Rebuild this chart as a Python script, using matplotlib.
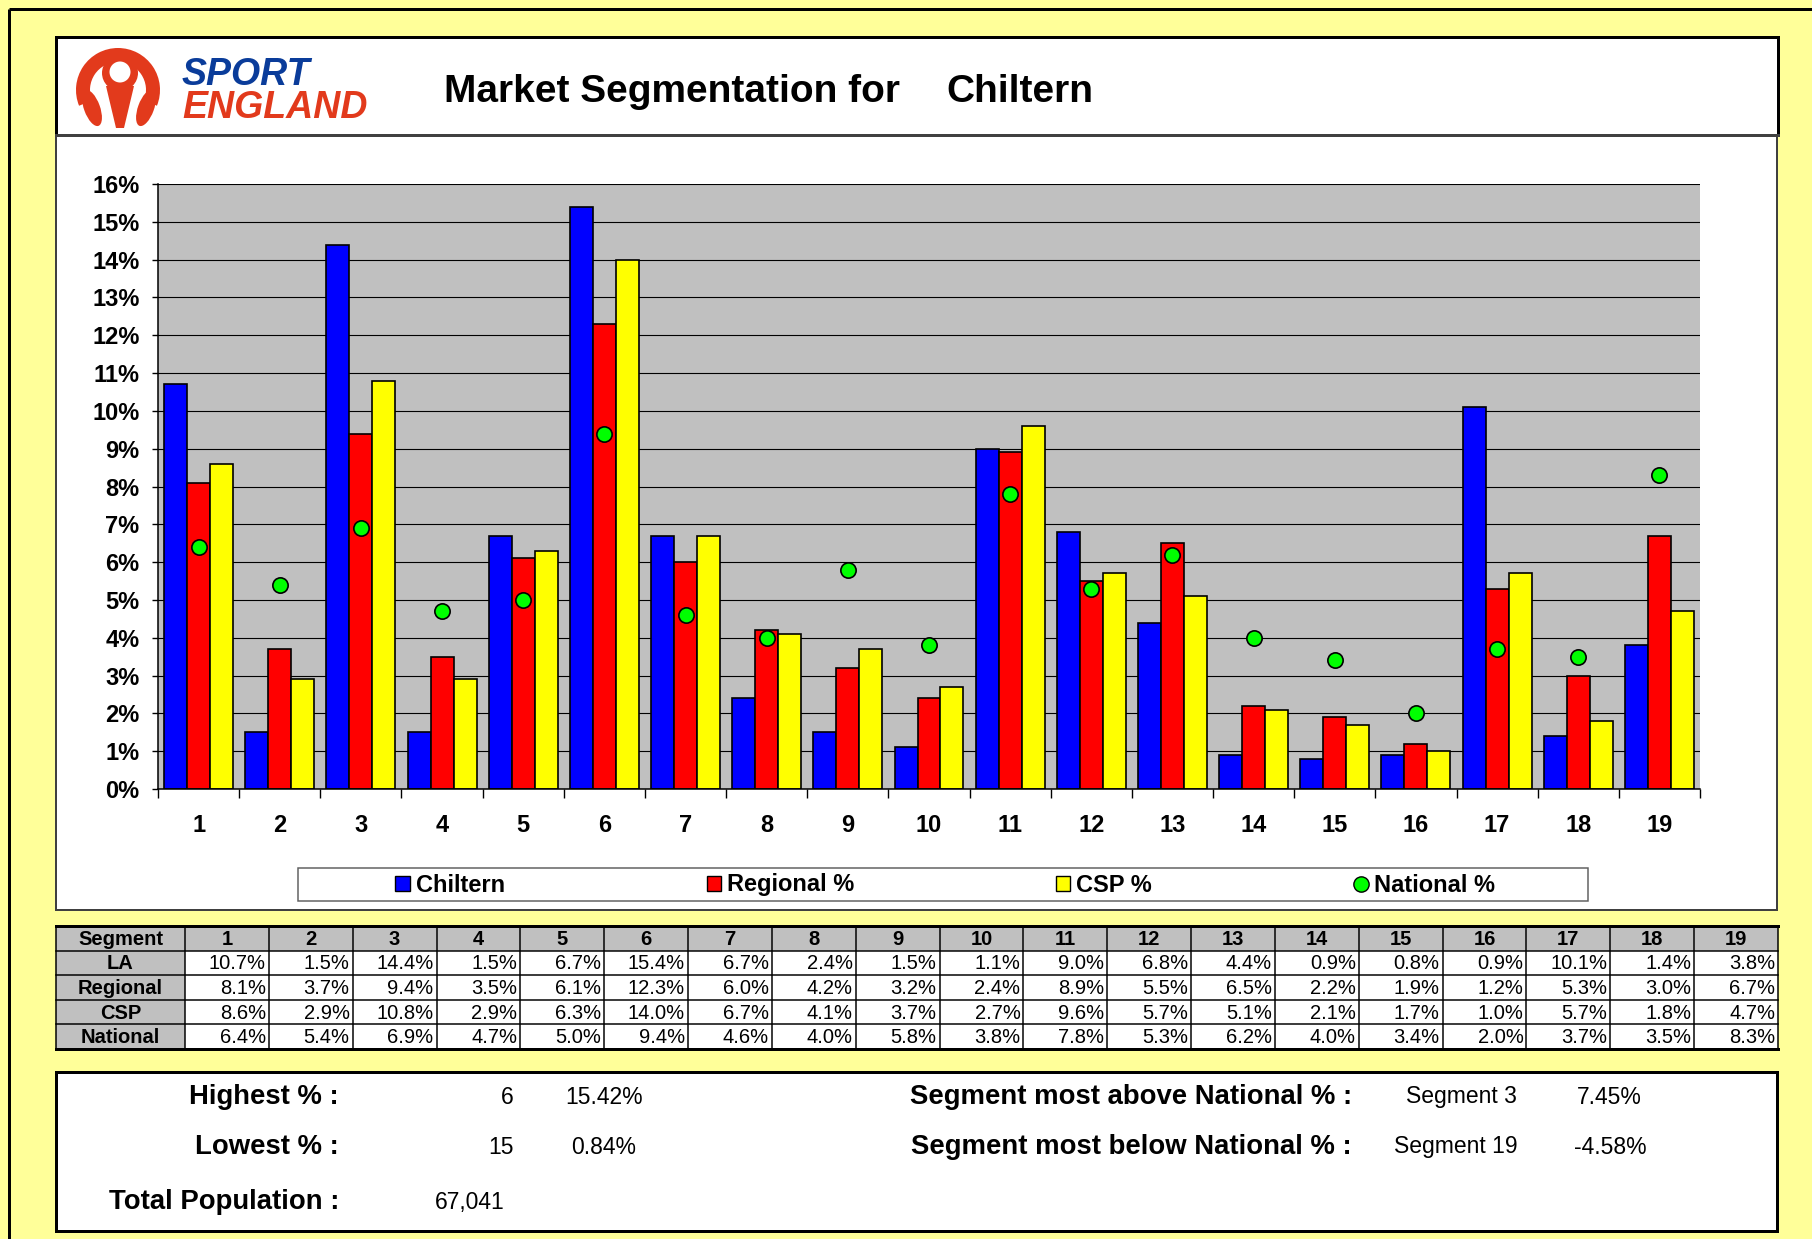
import numpy as np
import matplotlib
matplotlib.use("Agg")
import matplotlib.pyplot as plt
from matplotlib.patches import Rectangle, Wedge, Circle, Ellipse, Polygon, Patch
from matplotlib.lines import Line2D

plt.rcParams['font.family'] = ['Liberation Sans', 'DejaVu Sans']

segments = list(range(1, 20))
la_pct = [10.7, 1.5, 14.4, 1.5, 6.7, 15.4, 6.7, 2.4, 1.5, 1.1, 9.0, 6.8, 4.4, 0.9, 0.8, 0.9, 10.1, 1.4, 3.8]
regional_pct = [8.1, 3.7, 9.4, 3.5, 6.1, 12.3, 6.0, 4.2, 3.2, 2.4, 8.9, 5.5, 6.5, 2.2, 1.9, 1.2, 5.3, 3.0, 6.7]
csp_pct = [8.6, 2.9, 10.8, 2.9, 6.3, 14.0, 6.7, 4.1, 3.7, 2.7, 9.6, 5.7, 5.1, 2.1, 1.7, 1.0, 5.7, 1.8, 4.7]
national_pct = [6.4, 5.4, 6.9, 4.7, 5.0, 9.4, 4.6, 4.0, 5.8, 3.8, 7.8, 5.3, 6.2, 4.0, 3.4, 2.0, 3.7, 3.5, 8.3]
row_names = ["LA", "Regional", "CSP", "National"]
y_ticks = list(range(0, 17))

area_name = "Chiltern"
highest_seg, highest_val = "6", "15.42%"
lowest_seg, lowest_val = "15", "0.84%"
total_pop = "67,041"
above_seg, above_val = "Segment 3", "7.45%"
below_seg, below_val = "Segment 19", "-4.58%"

W, H = 1812, 1239
PX = 72 / 100  # points per pixel at dpi 100

fig = plt.figure(figsize=(W / 100, H / 100), dpi=100)
fig.patch.set_facecolor("#FFFF99")

# pixel canvas for frames, table and texts
bg = fig.add_axes([0, 0, 1, 1], zorder=0)
bg.set_xlim(0, W)
bg.set_ylim(H, 0)
bg.axis("off")

# outer frame lines
bg.plot([9, W], [9, 9], color="black", lw=3 * PX, solid_capstyle="butt")
bg.plot([9, 9], [9, H], color="black", lw=3 * PX, solid_capstyle="butt")

# header box
bg.add_patch(Rectangle((56, 37), 1722, 98, fc="white", ec="black", lw=3 * PX))
# chart box
bg.add_patch(Rectangle((56, 135), 1721, 775, fc="white", ec="#404040", lw=2 * PX))
bg.plot([56, 1778], [135, 135], color="#404040", lw=3 * PX)
# legend box
bg.add_patch(Rectangle((298, 868), 1290, 33, fc="white", ec="#606060", lw=1.5 * PX))
# bottom summary box
bg.add_patch(Rectangle((56, 1072), 1721, 159, fc="white", ec="black", lw=3 * PX))

# logo
red = "#E23A1C"
bg.add_patch(Wedge((118, 90), 42, 158, 382, width=14, fc=red, ec="none"))
bg.add_patch(Circle((120, 73), 18, fc=red, ec="none"))
bg.add_patch(Circle((120, 72), 10.5, fc="white", ec="none"))
bg.add_patch(Polygon([(106, 86), (134, 86), (124, 128), (116, 128)], fc=red, ec="none"))
bg.add_patch(Ellipse((92, 108), 16, 38, angle=-20, fc=red, ec="none"))
bg.add_patch(Ellipse((146, 108), 16, 38, angle=20, fc=red, ec="none"))
bg.text(182, 75, "SPORT", color="#0A3C9A", fontsize=27, fontweight="bold",
        fontstyle="italic", va="center", ha="left")
bg.text(182, 108, "ENGLAND", color=red, fontsize=27, fontweight="bold",
        fontstyle="italic", va="center", ha="left")

# title
bg.text(444, 92, "Market Segmentation for", fontsize=28, fontweight="bold", va="center", ha="left")
bg.text(946, 92, area_name, fontsize=28, fontweight="bold", va="center", ha="left")

# chart
ax = fig.add_axes([158 / W, 1 - 789 / H, 1542 / W, 605 / H], zorder=2)
ax.set_facecolor("#C0C0C0")
x = np.array(segments)
bw = 0.283
ax.bar(x - bw, la_pct, bw, color="#0000FF", edgecolor="black", lw=1.2, zorder=3)
ax.bar(x, regional_pct, bw, color="#FF0000", edgecolor="black", lw=1.2, zorder=3)
ax.bar(x + bw, csp_pct, bw, color="#FFFF00", edgecolor="black", lw=1.2, zorder=3)
ax.plot(x, national_pct, "o", color="#00FF00", mec="black", mew=1.2, ms=11, ls="none", zorder=4)

ax.set_xlim(0.5, 19.5)
ax.set_ylim(0, 16)
ax.set_yticks(y_ticks)
ax.set_yticklabels([f"{v}%" for v in y_ticks], fontsize=17, fontweight="bold")
ax.set_xticks(x)
ax.set_xticklabels([str(s) for s in segments], fontsize=17, fontweight="bold")
ax.set_xticks(np.arange(0.5, 20, 1), minor=True)
ax.tick_params(axis="x", which="major", length=0, pad=18)
ax.tick_params(axis="x", which="minor", length=9 * PX, width=1, direction="out")
ax.tick_params(axis="y", length=6 * PX, width=1, direction="out", pad=9)
ax.yaxis.grid(True, color="black", lw=0.8, zorder=1)
ax.set_axisbelow(True)
for s in ["top", "right"]:
    ax.spines[s].set_visible(False)
for s in ["left", "bottom"]:
    ax.spines[s].set_linewidth(1.1)
    ax.spines[s].set_zorder(5)

handles = [
    Patch(fc="#0000FF", ec="black", lw=1),
    Patch(fc="#FF0000", ec="black", lw=1),
    Patch(fc="#FFFF00", ec="black", lw=1),
    Line2D([], [], marker="o", color="#00FF00", mec="black", ls="none", ms=11),
]
leg = ax.legend(handles, [area_name, "Regional %", "CSP %", "National %"],
                loc="center", bbox_to_anchor=(945 / W, 1 - 885 / H),
                bbox_transform=fig.transFigure, ncol=4, frameon=False,
                prop={"size": 17, "weight": "bold"}, handlelength=0.6,
                handleheight=0.6, handletextpad=0.25, columnspacing=8.55,
                borderpad=0)
leg._legend_handle_box.align = "center"

# table
x_edges = [56, 185] + list(185 + (1778 - 185) / 19 * np.arange(1, 20))
y_edges = np.linspace(926, 1049, 6)
table_rows = [la_pct, regional_pct, csp_pct, national_pct]
gray = "#C0C0C0"
bg.add_patch(Rectangle((x_edges[0], y_edges[0]), x_edges[-1] - x_edges[0],
                       y_edges[-1] - y_edges[0], fc="white", ec="none"))
bg.add_patch(Rectangle((x_edges[0], y_edges[0]), x_edges[-1] - x_edges[0],
                       y_edges[1] - y_edges[0], fc=gray, ec="none"))
bg.add_patch(Rectangle((x_edges[0], y_edges[0]), x_edges[1] - x_edges[0],
                       y_edges[-1] - y_edges[0], fc=gray, ec="none"))
for xe in x_edges:
    bg.plot([xe, xe], [y_edges[0], y_edges[-1]], color="black", lw=1.5 * PX)
for i, ye in enumerate(y_edges):
    lw = 3 if i in (0, len(y_edges) - 1) else 1.5
    bg.plot([x_edges[0], x_edges[-1]], [ye, ye], color="black", lw=lw * PX)

def ymid(r):
    return (y_edges[r] + y_edges[r + 1]) / 2 + 1

bg.text((x_edges[0] + x_edges[1]) / 2, ymid(0), "Segment", fontsize=14.5,
        fontweight="bold", ha="center", va="center")
for j, s in enumerate(segments):
    bg.text((x_edges[j + 1] + x_edges[j + 2]) / 2, ymid(0), str(s), fontsize=14.5,
            fontweight="bold", ha="center", va="center")
for r, (name, vals) in enumerate(zip(row_names, table_rows)):
    bg.text((x_edges[0] + x_edges[1]) / 2, ymid(r + 1), name, fontsize=14.5,
            fontweight="bold", ha="center", va="center")
    for j, v in enumerate(vals):
        bg.text(x_edges[j + 2] - 3, ymid(r + 1), f"{v:.1f}%", fontsize=14.5,
                ha="right", va="center")

# summary box
LBL = 19.8
VAL = 16.5
bg.text(339, 1097, "Highest % :", fontsize=LBL, fontweight="bold", ha="right", va="center")
bg.text(514, 1097, highest_seg, fontsize=VAL, ha="right", va="center")
bg.text(565, 1097, highest_val, fontsize=VAL, ha="left", va="center")
bg.text(339, 1147, "Lowest % :", fontsize=LBL, fontweight="bold", ha="right", va="center")
bg.text(514, 1147, lowest_seg, fontsize=VAL, ha="right", va="center")
bg.text(571, 1147, lowest_val, fontsize=VAL, ha="left", va="center")
bg.text(339, 1202, "Total Population :", fontsize=LBL, fontweight="bold", ha="right", va="center")
bg.text(435, 1202, total_pop, fontsize=VAL, ha="left", va="center")
bg.text(1352, 1097, "Segment most above National % :", fontsize=LBL, fontweight="bold",
        ha="right", va="center")
bg.text(1406, 1097, above_seg, fontsize=VAL, ha="left", va="center")
bg.text(1577, 1097, above_val, fontsize=VAL, ha="left", va="center")
bg.text(1352, 1147, "Segment most below National % :", fontsize=LBL, fontweight="bold",
        ha="right", va="center")
bg.text(1394, 1147, below_seg, fontsize=VAL, ha="left", va="center")
bg.text(1574, 1147, below_val, fontsize=VAL, ha="left", va="center")

fig.savefig("out.png", dpi=100, facecolor=fig.get_facecolor())
